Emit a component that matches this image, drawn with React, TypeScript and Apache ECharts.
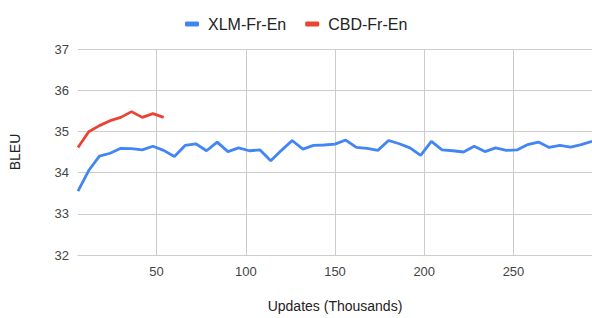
import React, { useEffect, useRef } from "react";
import * as echarts from "echarts";

const updates = [
  6, 12, 18, 24, 30, 36, 42, 48, 54, 60, 66, 72, 78, 84, 90, 96, 102, 108, 114, 120,
  126, 132, 138, 144, 150, 156, 162, 168, 174, 180, 186, 192, 198, 204, 210, 216, 222,
  228, 234, 240, 246, 252, 258, 264, 270, 276, 282, 288, 294,
];

const xlmFrEn = [
  33.55, 34.05, 34.4, 34.47, 34.59, 34.58, 34.55, 34.64, 34.54, 34.39, 34.66, 34.7,
  34.53, 34.74, 34.51, 34.6, 34.53, 34.55, 34.29, 34.54, 34.78, 34.57, 34.66, 34.67,
  34.69, 34.79, 34.61, 34.59, 34.54, 34.78, 34.7, 34.6, 34.42, 34.76, 34.55, 34.53,
  34.5, 34.64, 34.51, 34.6, 34.54, 34.55, 34.68, 34.74, 34.61, 34.66, 34.62, 34.68,
  34.76,
];

const cbdFrEn = [34.61, 34.99, 35.14, 35.26, 35.34, 35.48, 35.34, 35.43, 35.34];

const xTicks = [50, 100, 150, 200, 250];
const seriesNames = ["XLM-Fr-En", "CBD-Fr-En"];
const colors = ["#4285F4", "#EA4335"];

const FONT = "'Liberation Sans', Arial, sans-serif";

export default function App() {
  const ref = useRef<HTMLDivElement>(null);

  useEffect(() => {
    if (!ref.current) return;
    const chart = echarts.init(ref.current, null, { renderer: "svg" });
    const pairs = (vals: number[]) => vals.map((v, i) => [updates[i], v]);
    chart.setOption({
      animation: false,
      color: colors,
      textStyle: { fontFamily: FONT },
      legend: {
        data: seriesNames,
        left: 180,
        top: 11,
        icon: "roundRect",
        itemWidth: 14,
        itemHeight: 5,
        itemGap: 19,
        textStyle: { fontSize: 16, color: "#222", fontFamily: FONT, padding: [0, 0, 0, 4] },
      },
      grid: { left: 77, right: 0, top: 49, bottom: 63, containLabel: false },
      xAxis: {
        type: "value",
        min: 6,
        max: 294,
        name: "Updates (Thousands)",
        nameLocation: "middle",
        nameGap: 44,
        nameTextStyle: { fontSize: 14, color: "#222", fontFamily: FONT },
        axisLine: { show: true, lineStyle: { color: "#cccccc", width: 1 } },
        axisTick: { show: false, customValues: xTicks },
        axisLabel: {
          customValues: xTicks,
          fontSize: 13,
          color: "#444",
          margin: 10,
          fontFamily: FONT,
        },
        splitLine: { show: true, lineStyle: { color: "#cccccc", width: 1 } },
      },
      yAxis: {
        type: "value",
        min: 32,
        max: 37,
        interval: 1,
        name: "BLEU",
        nameLocation: "middle",
        nameGap: 56,
        nameTextStyle: { fontSize: 14, color: "#222", fontFamily: FONT },
        axisLine: { show: false },
        axisTick: { show: false },
        axisLabel: { fontSize: 13, color: "#444", margin: 9, fontFamily: FONT },
        splitLine: { show: true, lineStyle: { color: "#cccccc", width: 1 } },
      },
      series: [
        {
          name: seriesNames[0],
          type: "line",
          data: pairs(xlmFrEn),
          showSymbol: false,
          symbol: "none",
          lineStyle: { width: 2.8, color: colors[0] },
          itemStyle: { color: colors[0] },
        },
        {
          name: seriesNames[1],
          type: "line",
          data: pairs(cbdFrEn),
          showSymbol: false,
          symbol: "none",
          lineStyle: { width: 2.8, color: colors[1] },
          itemStyle: { color: colors[1] },
        },
      ],
    });
    return () => chart.dispose();
  }, []);

  return (
    <div
      ref={ref}
      style={{ position: "fixed", left: 0, top: 0, width: 592, height: 318, background: "#fff" }}
    />
  );
}
